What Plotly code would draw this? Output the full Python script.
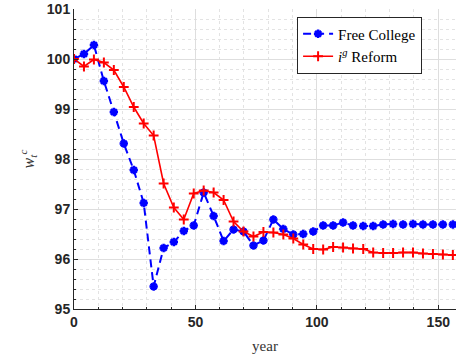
import plotly.graph_objects as go

years = [0, 4.1, 8.2, 12.3, 16.4, 20.5, 24.6, 28.7, 32.8, 36.9,
         41.1, 45.2, 49.3, 53.4, 57.5, 61.6, 65.7, 69.8, 73.9, 78.0,
         82.1, 86.2, 90.3, 94.4, 98.5, 102.6, 106.7, 110.8, 114.9, 119.1,
         123.2, 127.3, 131.4, 135.5, 139.6, 143.7, 147.8, 151.9, 156.0]

free_college = [100.00, 100.10, 100.28, 99.56, 98.94, 98.31, 97.78, 97.12, 95.45, 96.22,
                96.34, 96.56, 96.67, 97.33, 96.86, 96.36, 96.59, 96.55, 96.27, 96.37,
                96.79, 96.60, 96.49, 96.50, 96.55, 96.67, 96.67, 96.73, 96.67, 96.66,
                96.66, 96.69, 96.70, 96.69, 96.70, 96.69, 96.69, 96.69, 96.69]

ig_reform = [100.00, 99.85, 99.99, 99.93, 99.78, 99.44, 99.04, 98.71, 98.47, 97.51,
             97.03, 96.79, 97.31, 97.37, 97.33, 97.18, 96.75, 96.55, 96.45, 96.54,
             96.53, 96.49, 96.41, 96.29, 96.20, 96.19, 96.24, 96.23, 96.21, 96.20,
             96.13, 96.12, 96.12, 96.13, 96.13, 96.11, 96.10, 96.09, 96.08]

x_ticks = [0, 50, 100, 150]
y_ticks = [95, 96, 97, 98, 99, 100, 101]

serif = "Liberation Serif, DejaVu Serif, serif"
sans = "Liberation Sans, Arial, sans-serif"
axcol = "#262626"

fig = go.Figure()
fig.add_trace(go.Scatter(
    x=years, y=free_college, mode="lines+markers", name="Free College",
    line=dict(color="#0000ff", width=2, dash="8px,5px"),
    marker=dict(symbol="asterisk-open", size=7, color="#0000ff",
                line=dict(color="#0000ff", width=2.5)),
))
fig.add_trace(go.Scatter(
    x=years, y=ig_reform, mode="lines+markers", name="<i>i</i><sup><i>g</i></sup> Reform",
    line=dict(color="#ff0000", width=1.6),
    marker=dict(symbol="cross-thin-open", size=7, color="#ff0000",
                line=dict(color="#ff0000", width=2)),
))

fig.update_layout(
    width=456, height=358,
    margin=dict(l=74, r=0, t=9, b=49),
    paper_bgcolor="white", plot_bgcolor="white",
    showlegend=True,
    legend=dict(x=0.584, y=0.975, xanchor="left", yanchor="top",
                bgcolor="white", bordercolor=axcol, borderwidth=1,
                font=dict(family=serif, size=15, color="#000000"),
                tracegroupgap=0, itemwidth=30),
    xaxis=dict(
        range=[0, 157.3], tickvals=x_ticks, ticktext=[str(v) for v in x_ticks],
        showline=True, linecolor=axcol, linewidth=1,
        ticks="inside", ticklen=4, tickcolor=axcol,
        showgrid=True, gridcolor="#dedede", gridwidth=1,
        minor=dict(dtick=10, showgrid=True, gridcolor="#e3e3e3", griddash="dot",
                   ticks="inside", ticklen=2, tickcolor=axcol),
        tickfont=dict(family=sans, size=14, color=axcol, weight="bold"),
        title=dict(text="year", font=dict(family=serif, size=15, color="#333333"), standoff=11),
        zeroline=False,
    ),
    yaxis=dict(
        range=[95, 101], tickvals=y_ticks, ticktext=[str(v) for v in y_ticks],
        showline=True, linecolor=axcol, linewidth=1,
        ticks="inside", ticklen=4, tickcolor=axcol,
        showgrid=True, gridcolor="#dedede", gridwidth=1,
        minor=dict(dtick=0.2, showgrid=True, gridcolor="#e3e3e3", griddash="dot",
                   ticks="inside", ticklen=2, tickcolor=axcol),
        tickfont=dict(family=sans, size=14, color=axcol, weight="bold"),
        title=dict(text="<i>w</i><sub><i>t</i></sub><sup><i>c</i></sup>",
                   font=dict(family=serif, size=16, color="#333333"), standoff=8),
        zeroline=False,
    ),
)

fig.write_html("out.html", config={"displayModeBar": False},
               post_script="document.body.style.margin='0';document.body.style.overflow='hidden';")
